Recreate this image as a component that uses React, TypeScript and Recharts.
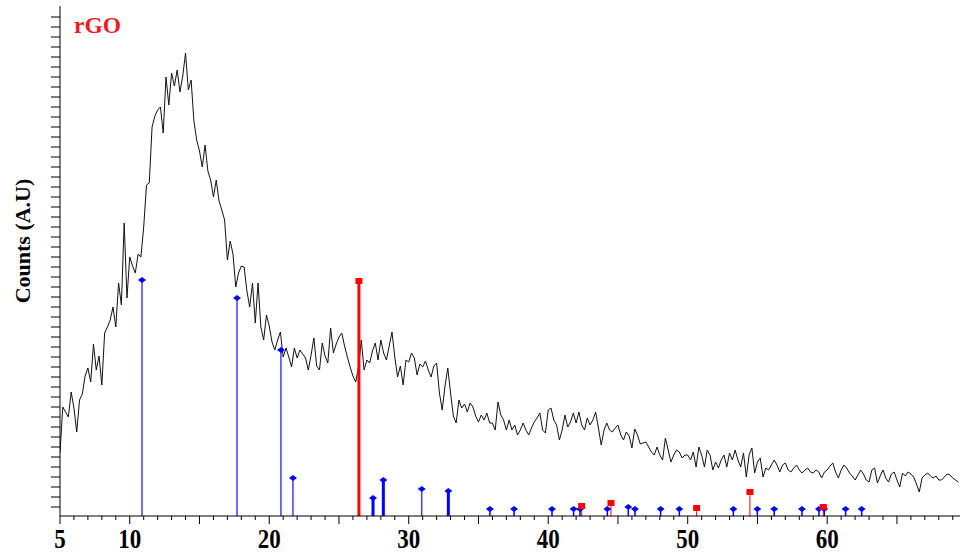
import React from "react";
import { ComposedChart, Line, Scatter, ErrorBar, XAxis, YAxis } from "recharts";

// XRD scan: counts sampled every 0.2 deg from 5 deg
const startAngle = 5;
const angleStep = 0.2;
const counts = [
  63, 109, 104, 99, 124, 108, 84, 116, 122, 140, 148, 134, 172, 146, 160, 131, 183, 189, 196, 209, 189, 233, 211, 293, 218,
  259, 250, 243, 262, 259, 289, 331, 333, 389, 400, 406, 409, 383, 439, 411, 443, 430, 446, 424, 440, 463, 426, 436, 395, 376,
  365, 349, 371, 345, 336, 319, 336, 315, 306, 296, 256, 275, 262, 229, 243, 250, 249, 225, 209, 233, 193, 233, 189, 176, 201,
  190, 174, 166, 176, 184, 159, 168, 159, 149, 168, 158, 166, 162, 158, 146, 161, 178, 150, 146, 173, 160, 153, 188, 163, 172,
  179, 183, 170, 159, 149, 140, 134, 149, 176, 146, 156, 153, 165, 173, 156, 176, 163, 156, 170, 184, 159, 139, 150, 131, 156,
  154, 163, 158, 141, 152, 149, 155, 146, 139, 150, 153, 123, 106, 130, 148, 123, 100, 93, 116, 108, 112, 104, 113, 109, 100,
  94, 101, 96, 103, 93, 93, 86, 114, 101, 96, 86, 96, 86, 91, 81, 86, 93, 86, 81, 88, 94, 98, 103, 86, 83,
  106, 108, 96, 91, 76, 86, 101, 89, 94, 103, 93, 104, 91, 86, 98, 91, 96, 104, 88, 71, 86, 93, 86, 84, 88,
  91, 81, 76, 84, 80, 68, 87, 81, 72, 73, 74, 69, 64, 61, 69, 61, 56, 78, 66, 54, 61, 66, 64, 58, 61,
  61, 56, 64, 49, 69, 61, 49, 66, 61, 46, 54, 48, 56, 61, 49, 63, 56, 66, 56, 49, 63, 39, 61, 68, 43,
  54, 58, 39, 48, 46, 51, 56, 51, 44, 51, 53, 46, 44, 48, 51, 46, 43, 46, 48, 44, 43, 46, 44, 38, 44,
  46, 50, 53, 44, 38, 46, 51, 48, 43, 40, 36, 41, 46, 42, 36, 34, 46, 48, 33, 40, 46, 38, 34, 42, 44,
  36, 29, 43, 40, 44, 42, 39, 32, 24, 38, 41, 43, 40, 38, 40, 36, 36, 39, 42, 41, 38, 36, 34,
];

// reference peaks (blue diamonds)
const blueThinAngles = [10.88, 17.69, 20.84, 21.7, 30.93];
const blueThinCounts = [236, 218, 166, 38, 27];
const blueThickAngles = [27.44, 28.18, 32.84];
const blueThickCounts = [18, 36, 25];
const blueMinorAngles = [35.82, 37.55, 40.27, 41.82, 42.28, 44.24, 45.74, 46.22, 48.06, 49.4, 53.27, 54.99, 56.2, 58.19, 59.41, 59.79, 61.32, 62.47];
const blueMinorCounts = [7, 7, 7, 7, 7, 7, 9, 7, 7, 7, 7, 7, 7, 7, 7, 7, 7, 7];

// reference peaks (red squares)
const redMainAngles = [26.43];
const redMainCounts = [235];
const redMinorAngles = [42.4, 44.5, 50.64, 54.46, 59.72];
const redMinorCounts = [10, 13, 8, 24, 9];

const xLabels = [5, 10, 20, 30, 40, 50, 60];

const xTicks: number[] = [];
for (let t = 5; t <= 69; t++) xTicks.push(t);
const yTicks: number[] = [];
for (let t = 9; t <= 505; t += 10) yTicks.push(t);

const pattern = counts.map((c, i) => ({ x: +(startAngle + i * angleStep).toFixed(1), y: c }));

const sticks = (angles: number[], heights: number[]) =>
  angles.map((a, i) => ({ x: a, y: heights[i], err: [heights[i], 0] }));

const serif = '"Liberation Serif", "Times New Roman", serif';

const XTick = (props: any) => {
  const { x, y, payload } = props;
  const v = payload.value;
  const major = v % 5 === 0;
  return (
    <g>
      <line x1={x} x2={x} y1={y} y2={y + (major ? 8 : 4)} stroke="#000" strokeWidth={1} />
      {xLabels.includes(v) && (
        <text
          transform={`translate(${x},${y + 32}) scale(1,1.15)`}
          textAnchor="middle"
          fontFamily={serif}
          fontWeight="bold"
          fontSize={23}
          fill="#000"
        >
          {v}
        </text>
      )}
    </g>
  );
};

const Diamond = (props: any) => {
  const { cx, cy } = props;
  return <polygon points={`${cx - 4},${cy} ${cx},${cy - 3} ${cx + 4},${cy} ${cx},${cy + 3}`} fill="#0000ff" />;
};

const Square = (props: any) => {
  const { cx, cy } = props;
  return <rect x={cx - 3.5} y={cy - 3} width={7} height={6} fill="#ff0000" />;
};

export default function App() {
  return (
    <div style={{ position: "absolute", left: 0, top: 0, width: 960, height: 552, background: "#fff" }}>
      <ComposedChart width={960} height={552} margin={{ top: 6, right: 0, bottom: 0, left: 0 }}>
        <XAxis
          dataKey="x"
          type="number"
          domain={[5, 69.52]}
          allowDataOverflow
          ticks={xTicks}
          interval={0}
          tickLine={false}
          tickSize={0}
          tickMargin={0}
          tick={<XTick />}
          height={36}
          axisLine={{ stroke: "#000" }}
        />
        <YAxis
          dataKey="y"
          type="number"
          domain={[0, 510]}
          allowDataOverflow
          ticks={yTicks}
          interval={0}
          tickSize={9}
          tickFormatter={() => ""}
          width={60}
          axisLine={{ stroke: "#000" }}
          tickLine={{ stroke: "#000" }}
        />
        <Line data={pattern} dataKey="y" type="linear" stroke="#111" strokeWidth={1} dot={false} isAnimationActive={false} />
        <Scatter data={sticks(blueThinAngles, blueThinCounts)} dataKey="y" shape={<Diamond />} isAnimationActive={false}>
          <ErrorBar dataKey="err" direction="y" width={0} stroke="#3f3fff" strokeWidth={1.5} />
        </Scatter>
        <Scatter data={sticks(blueThickAngles, blueThickCounts)} dataKey="y" shape={<Diamond />} isAnimationActive={false}>
          <ErrorBar dataKey="err" direction="y" width={0} stroke="#0000ff" strokeWidth={3} />
        </Scatter>
        <Scatter data={sticks(blueMinorAngles, blueMinorCounts)} dataKey="y" shape={<Diamond />} isAnimationActive={false}>
          <ErrorBar dataKey="err" direction="y" width={0} stroke="#0000ff" strokeWidth={1.5} />
        </Scatter>
        <Scatter data={sticks(redMainAngles, redMainCounts)} dataKey="y" shape={<Square />} isAnimationActive={false}>
          <ErrorBar dataKey="err" direction="y" width={0} stroke="#ff0000" strokeWidth={3} />
        </Scatter>
        <Scatter data={sticks(redMinorAngles, redMinorCounts)} dataKey="y" shape={<Square />} isAnimationActive={false}>
          <ErrorBar dataKey="err" direction="y" width={0} stroke="#ff0000" strokeWidth={1} />
        </Scatter>
      </ComposedChart>
      <svg width={960} height={552} style={{ position: "absolute", left: 0, top: 0, pointerEvents: "none" }}>
        <text x={74} y={33} fontFamily={serif} fontWeight="bold" fontSize={23.5} fill="#ed1c24">
          rGO
        </text>
        <text
          transform="translate(30,241) rotate(-90)"
          textAnchor="middle"
          fontFamily={serif}
          fontWeight="bold"
          fontSize={22}
          fill="#000"
        >
          Counts (A.U)
        </text>
      </svg>
    </div>
  );
}
